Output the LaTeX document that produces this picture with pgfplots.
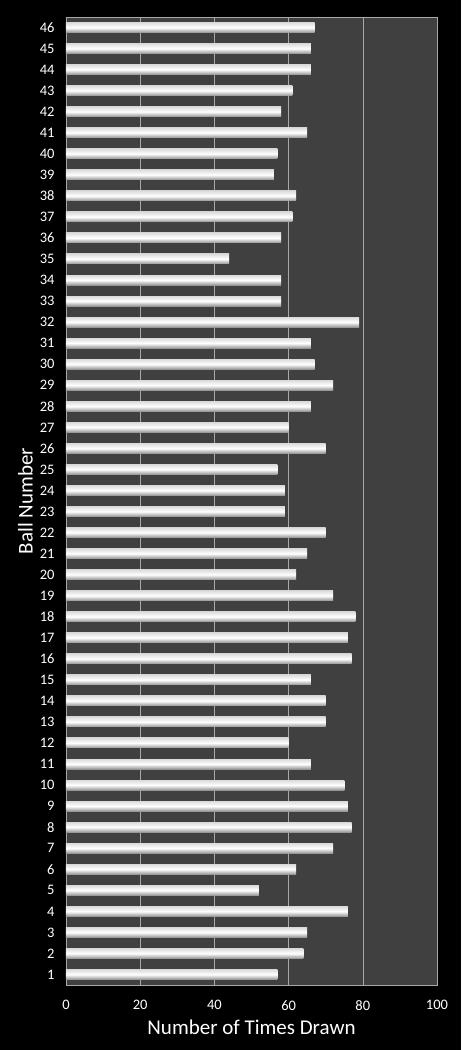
\documentclass[border=0pt]{standalone}
\usepackage{pgfplots}
\usepackage{pgfplotstable}
\pgfplotsset{compat=1.18}
\usepackage{fontspec}
\setmainfont{Carlito}
\definecolor{plotbg}{HTML}{404040}
\definecolor{gridc}{HTML}{A8A8A8}
\pgfplotstableread{
b v
1 57
2 64
3 65
4 76
5 52
6 62
7 72
8 77
9 76
10 75
11 66
12 60
13 70
14 70
15 66
16 77
17 76
18 78
19 72
20 62
21 65
22 70
23 59
24 59
25 57
26 70
27 60
28 66
29 72
30 67
31 66
32 79
33 58
34 58
35 44
36 58
37 61
38 62
39 56
40 57
41 65
42 58
43 61
44 66
45 66
46 67
}\balls
\begin{document}
\begin{tikzpicture}
\fill[black] (-66pt,-65pt) rectangle (395pt,985pt);
\begin{axis}[
  scale only axis,
  width=371pt, height=968pt,
  xmin=0, xmax=100,
  ymin=0.5, ymax=46.5,
  xbar, bar width=10pt, bar shift=0pt,
  xtick={0,20,40,60,80,100},
  ytick={1,...,46},
  major tick length=0pt,
  axis background/.style={fill=plotbg},
  axis line style={gridc},
  xmajorgrids, major grid style={gridc, line width=0.6pt},
  tick label style={white, font=\fontsize{14.5}{16}\selectfont},
  /pgf/number format/assume math mode=true,
  xticklabel style={yshift=-12pt},
  yticklabel style={xshift=-8pt},
  xlabel={Number of Times Drawn},
  ylabel={Ball Number},
  label style={white, font=\fontsize{21}{23}\selectfont},
  xlabel style={yshift=-3pt},
  ylabel style={yshift=0pt},
]
\pgfplotsinvokeforeach{1,...,46}{
\addplot[draw=none, shading=axis, top color=white!86!black, bottom color=white!58!black, middle color=white,
  restrict y to domain=#1:#1] table[x=v, y=b] {\balls};
}
\end{axis}
\pgfresetboundingbox
\useasboundingbox (-66pt,-65pt) rectangle (395pt,985pt);
\end{tikzpicture}
\end{document}
